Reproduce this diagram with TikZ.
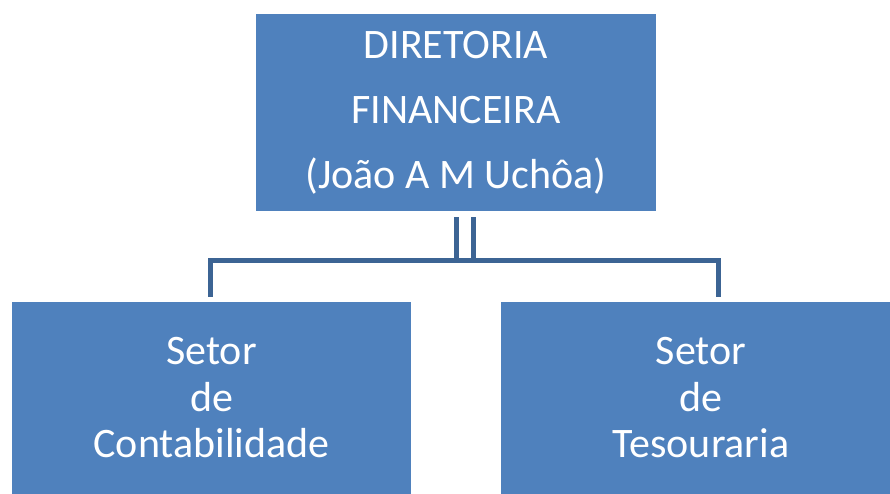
\documentclass[tikz,border=0pt]{standalone}
\usepackage{fontspec}
\setmainfont{Carlito}
\usetikzlibrary{positioning}
\definecolor{boxblue}{HTML}{4F81BD}
\definecolor{linkblue}{HTML}{3C6494}
\tikzset{
    orgbox/.style={fill=boxblue, text=white, align=center, inner sep=0pt},
    topbox/.style={orgbox, minimum width=400pt, minimum height=197pt, font=\fontsize{42}{65}\selectfont},
    subbox/.style={orgbox, minimum height=192pt, font=\fontsize{42}{46.5}\selectfont},
    link/.style={draw=linkblue, line width=5pt}
}
\begin{document}
\begin{tikzpicture}[x=1pt, y=-1pt]
    \clip (0,0) rectangle (890,494);
    \node[topbox] (dir) at (456,112.5) {DIRETORIA\\FINANCEIRA\\(João A M Uchôa)};
    \node[subbox, minimum width=399pt] (cont) at (211.5,398) {Setor\\de\\Contabilidade};
    \node[subbox, minimum width=400pt] (tes) at (701,398) {Setor\\de\\Tesouraria};
    % conectores
    \draw[link] ([xshift=0.5pt,yshift=-6pt]dir.south) -- ++(0,42.8) -| ([xshift=-0.8pt,yshift=5.3pt]cont.north)
        ([xshift=0.5pt,yshift=-48.8pt]dir.south) -- ++(16.5,0);
    \draw[link] ([xshift=17pt,yshift=-6pt]dir.south) -- ++(0,42.8) -| ([xshift=17.7pt,yshift=5.3pt]tes.north);
\end{tikzpicture}
\end{document}
